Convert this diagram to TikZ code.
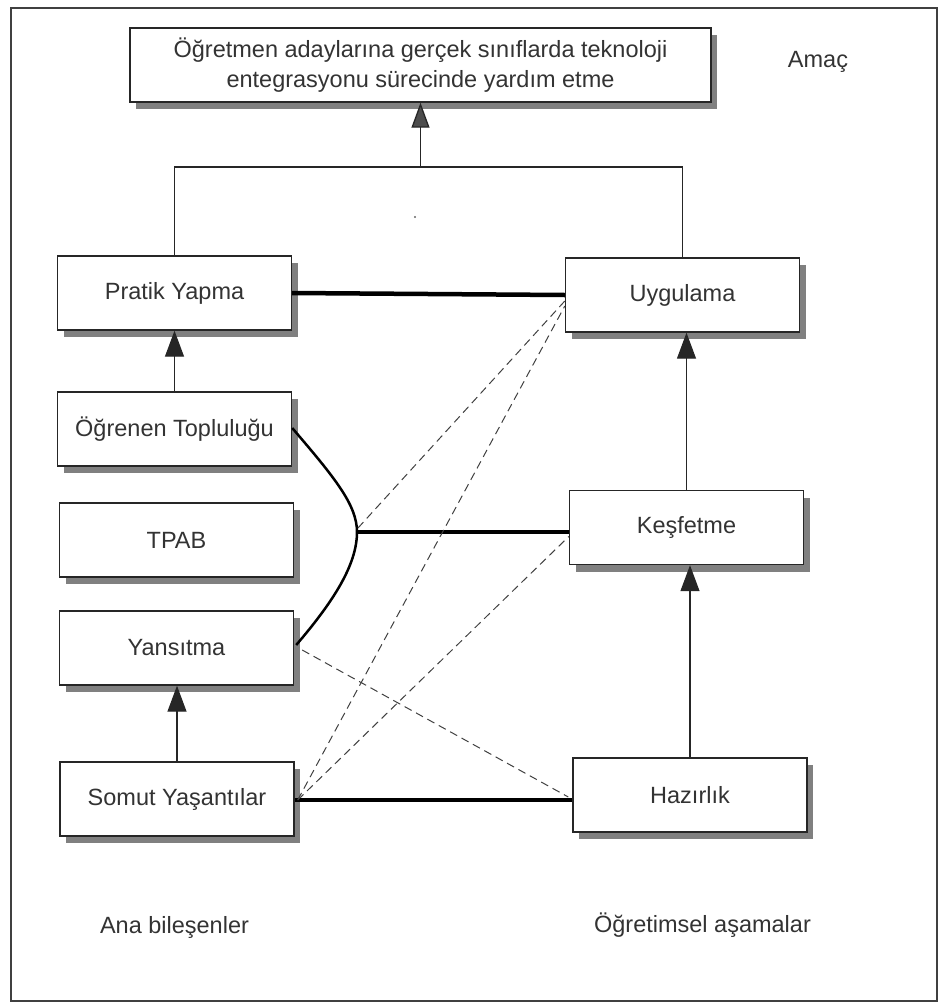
\documentclass[tikz,border=0pt]{standalone}
\usepackage{fontspec}
\setmainfont{Liberation Sans}
\usetikzlibrary{shadows,arrows.meta,calc}
\begin{document}
\begin{tikzpicture}[x=1pt,y=-1pt,
  txt/.style={font=\fontsize{23.5}{30}\selectfont, text=black!80, inner sep=0pt},
  box/.style={txt, draw=black!85, line width=1.4pt, fill=white,
    minimum width=234pt, minimum height=74pt, align=center,
    drop shadow={shadow xshift=6pt, shadow yshift=-7pt, fill=black!50, opacity=1}},
  arr/.style={line width=1.3pt, draw=black!85, -{Triangle[length=26pt,width=19pt]}},
  thick line/.style={line width=4.5pt, draw=black},
  dash line/.style={line width=1pt, draw=black!75, dash pattern=on 8pt off 5pt},
  thin line/.style={line width=1.3pt, draw=black!85}]
\useasboundingbox (0,0) rectangle (940,1004);
\draw[line width=2pt, draw=black!75] (11,8) rectangle (937,1001);

% boxes
\node[box, minimum width=581pt] (goal) at (420.5,65)
  {Öğretmen adaylarına gerçek sınıflarda teknoloji\\entegrasyonu sürecinde yardım etme};
\node[box] (pratik) at (174.5,293) {Pratik Yapma};
\node[box] (ogrenen) at (174.5,429) {Öğrenen Topluluğu};
\node[box] (tpab) at (176.5,540) {TPAB};
\node[box] (yans) at (176.5,648) {Yansıtma};
\node[box] (somut) at (177,799) {Somut Yaşantılar};
\node[box] (uyg) at (682.5,295) {Uygulama};
\node[box] (kesf) at (686.5,527.5) {Keşfetme};
\node[box] (haz) at (690,795) {Hazırlık};

% labels
\node[txt] (amac) at (818,62) {Amaç};
\node[txt] (ana) at (174.5,927) {Ana bileşenler};
\node[txt] (ogr) at (702.5,925) {Öğretimsel aşamalar};

% bracket to goal
\coordinate (brk) at (420.5,167);
\draw[thin line] (pratik.north) |- (brk) -| (uyg.north);
\draw[arr, -{Triangle[length=25pt,width=18pt, fill=black!70]}] (brk) -- (goal.south);
\fill[black!60] (415,217) circle (1.2pt);

% vertical arrows
\draw[arr] (ogrenen.north) -- (ogrenen.north |- pratik.south);
\draw[arr] (somut.north) -- (somut.north |- yans.south);
\draw[arr] (kesf.north) -- (kesf.north |- uyg.south);
\draw[arr] (haz.north) -- (haz.north |- kesf.south);

% curve
\coordinate (cusp) at (357,532);
\draw[line width=2.5pt] ($(ogrenen.east)+(0,-1)$) .. controls (335,478) and (357,505) .. (cusp)
  .. controls (357,565) and (333,602) .. ($(yans.east)+(2,-3)$);

% thick connectors
\draw[thick line] (pratik.east) -- (uyg.west);
\draw[thick line] (cusp) -- (kesf.west |- cusp);
\draw[thick line] ($(somut.east)+(0,1)$) -- ($(haz.west |- somut.east)+(0,1)$);

% dashed connectors
\coordinate (u1) at ($(uyg.west)+(0,6)$);
\coordinate (u2) at ($(uyg.west)+(0,11)$);
\coordinate (k1) at ($(kesf.west)+(0,9)$);
\draw[dash line] ($(cusp)+(1,-4)$) -- (u1);
\draw[dash line] ($(somut.east)+(3,1)$) -- (u2);
\draw[dash line] ($(somut.east)+(3,1)$) -- (k1);
\draw[dash line] ($(yans.east)+(8,2)$) -- ($(haz.west)+(-4,2)$);
\end{tikzpicture}
\end{document}
